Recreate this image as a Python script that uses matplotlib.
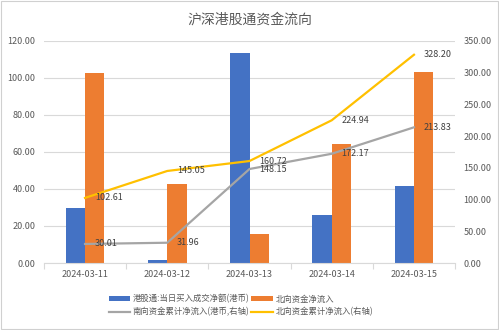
import matplotlib
matplotlib.use("Agg")
import matplotlib.pyplot as plt
from matplotlib.patches import Rectangle
import numpy as np

plt.rcParams['font.family'] = ['Noto Sans CJK SC', 'DejaVu Sans']

dates = ["2024-03-11", "2024-03-12", "2024-03-13", "2024-03-14", "2024-03-15"]
south_daily = [29.7, 1.5, 113.7, 25.9, 41.5]
north_daily = [102.61, 42.44, 15.67, 64.22, 103.26]
south_cum = [30.01, 31.96, 148.15, 172.17, 213.83]
north_cum = [102.61, 145.05, 160.72, 224.94, 328.20]

BLUE = "#4472C4"
ORANGE = "#ED7D31"
GRAY = "#A5A5A5"
YELLOW = "#FFC000"
TXT = "#595959"
GRID = "#D9D9D9"

fig = plt.figure(figsize=(4.99, 3.30), dpi=100)
fig.patches.append(Rectangle((0.002, 0.003), 0.995, 0.994, transform=fig.transFigure,
                             fill=False, edgecolor="#D0D0D0", linewidth=0.8))
ax = fig.add_axes([0.088, 0.203, 0.824, 0.673])
ax2 = ax.twinx()

x = np.arange(len(dates))
w = 0.235
ax.bar(x - w / 2, south_daily, w, color=BLUE, label="港股通:当日买入成交净额(港币)", zorder=2)
ax.bar(x + w / 2, north_daily, w, color=ORANGE, label="北向资金净流入", zorder=2)

ax.set_ylim(0, 120)
ax.set_yticks(np.arange(0, 121, 20))
ax.set_yticklabels([f"{v:.2f}" for v in np.arange(0, 121, 20)])
ax.set_xlim(-0.5, len(dates) - 0.5)
ax.set_xticks(x)
ax.set_xticklabels(dates)
ax.set_xticks(np.arange(-0.5, len(dates), 1.0), minor=True)
ax.tick_params(axis='x', which='major', length=0, labelsize=6.5, colors=TXT, pad=5)
ax.tick_params(axis='x', which='minor', length=4, color=GRID, width=0.8)
ax.tick_params(axis='y', length=0, labelsize=6.5, colors=TXT, pad=6)
ax.grid(axis='y', color=GRID, linewidth=0.8, zorder=0)
ax.set_axisbelow(True)
for s in ["top", "left", "right"]:
    ax.spines[s].set_visible(False)
ax.spines["bottom"].set_color(GRID)
ax.spines["bottom"].set_linewidth(0.8)

l1, = ax2.plot(x, south_cum, color=GRAY, linewidth=1.6, label="南向资金累计净流入(港币,右轴)", zorder=3)
l2, = ax2.plot(x, north_cum, color=YELLOW, linewidth=1.6, label="北向资金累计净流入(右轴)", zorder=3)
ax2.set_ylim(0, 350)
ax2.set_yticks(np.arange(0, 351, 50))
ax2.set_yticklabels([f"{v:.2f}" for v in np.arange(0, 351, 50)])
ax2.tick_params(axis='y', length=0, labelsize=6.5, colors=TXT, pad=6)
for s in ["top", "left", "right", "bottom"]:
    ax2.spines[s].set_visible(False)

for xi, v in zip(x, south_cum):
    ax2.annotate(f"{v:.2f}", (xi, v), xytext=(7, 0), textcoords="offset points",
                 ha="left", va="center", fontsize=6.5, color="#404040", zorder=4)
for xi, v in zip(x, north_cum):
    ax2.annotate(f"{v:.2f}", (xi, v), xytext=(7, 0), textcoords="offset points",
                 ha="left", va="center", fontsize=6.5, color="#404040", zorder=4)

fig.text(0.5, 0.94, "沪深港股通资金流向", ha="center", va="center", fontsize=10, color=TXT)

h1, lb1 = ax.get_legend_handles_labels()
handles = [h1[0], l1, h1[1], l2]
labels = [lb1[0], l1.get_label(), lb1[1], l2.get_label()]
leg = fig.legend(handles, labels, loc="center", bbox_to_anchor=(0.483, 0.075), ncol=2,
                 frameon=False, fontsize=6, labelcolor=TXT, columnspacing=0.2,
                 handlelength=2.6, handleheight=0.6, handletextpad=0.3, labelspacing=0.45,
                 borderaxespad=0)

fig.savefig("out.png", dpi=100)
